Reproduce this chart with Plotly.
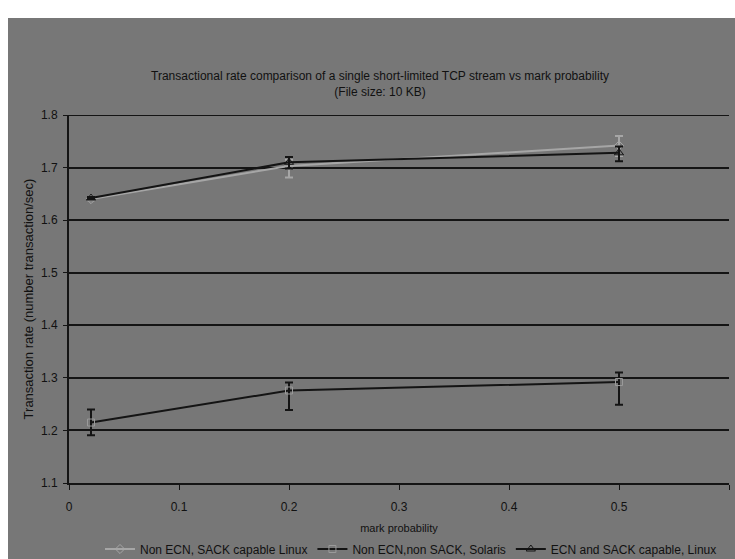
import plotly.graph_objects as go

# mark probability values tested
mark_prob = [0.02, 0.2, 0.5]

# Non ECN, SACK capable Linux
linux_sack = [1.64, 1.703, 1.742]
linux_sack_err_plus = [0.002, 0.012, 0.018]
linux_sack_err_minus = [0.002, 0.022, 0.02]

# Non ECN, non SACK, Solaris
solaris = [1.215, 1.276, 1.292]
solaris_err_plus = [0.025, 0.015, 0.018]
solaris_err_minus = [0.024, 0.037, 0.043]

# ECN and SACK capable, Linux
linux_ecn = [1.642, 1.71, 1.728]
linux_ecn_err_plus = [0.002, 0.01, 0.012]
linux_ecn_err_minus = [0.002, 0.012, 0.016]

y_ticks = [1.1, 1.2, 1.3, 1.4, 1.5, 1.6, 1.7, 1.8]
x_ticks = [0, 0.1, 0.2, 0.3, 0.4, 0.5, 0.6]

BG = "#777777"
DARK = "#141414"
LIGHT = "#a6a6a6"
FONT = "Liberation Sans, Arial, sans-serif"

W, H = 735, 559
ML, MR, MT, MB = 69, 6, 115, 76

fig = go.Figure()

fig.add_trace(go.Scatter(
    x=mark_prob, y=linux_sack, mode="lines+markers",
    name="Non ECN, SACK capable Linux",
    line=dict(color=LIGHT, width=2),
    marker=dict(symbol="diamond-open", size=7, color=LIGHT, line=dict(width=1)),
    error_y=dict(type="data", symmetric=False, array=linux_sack_err_plus,
                 arrayminus=linux_sack_err_minus, color=LIGHT, thickness=2, width=4),
))
fig.add_trace(go.Scatter(
    x=mark_prob, y=solaris, mode="lines+markers",
    name="Non ECN,non SACK, Solaris",
    line=dict(color=DARK, width=2),
    marker=dict(symbol="square-open", size=7, color="#9a9a9a", line=dict(width=1)),
    error_y=dict(type="data", symmetric=False, array=solaris_err_plus,
                 arrayminus=solaris_err_minus, color=DARK, thickness=2, width=4),
))
fig.add_trace(go.Scatter(
    x=mark_prob, y=linux_ecn, mode="lines+markers",
    name="ECN and SACK capable, Linux",
    line=dict(color=DARK, width=2),
    marker=dict(symbol="triangle-up-open", size=8, color=DARK, line=dict(width=1)),
    error_y=dict(type="data", symmetric=False, array=linux_ecn_err_plus,
                 arrayminus=linux_ecn_err_minus, color=DARK, thickness=2, width=4),
))

pw = W - ML - MR
ph = H - MT - MB
# gray chart panel, leaving a thin white strip at the top and left
fig.add_shape(
    type="rect", xref="paper", yref="paper", layer="below",
    x0=(8 - ML) / pw, x1=1 + (MR + 2) / pw,
    y0=-(MB + 2) / ph, y1=1 + (MT - 18) / ph,
    fillcolor=BG, line=dict(width=0),
)
# top gridline at the upper end of the value range
fig.add_shape(
    type="line", xref="paper", yref="y", x0=0, x1=1, y0=y_ticks[-1], y1=y_ticks[-1],
    line=dict(color=DARK, width=2),
)

fig.update_layout(
    width=W, height=H,
    margin=dict(l=ML, r=MR, t=MT, b=MB, autoexpand=False),
    paper_bgcolor="white",
    plot_bgcolor=BG,
    font=dict(family=FONT, size=12, color="#111111"),
    title=dict(
        text="Transactional rate comparison of a single short-limited TCP stream vs mark probability<br>(File size: 10 KB)",
        font=dict(family=FONT, size=12, color="#111111"),
        xref="container", yref="container",
        x=380 / W, y=1 - 80 / H, xanchor="center", yanchor="middle",
    ),
    xaxis=dict(
        range=[0, 0.6], tickvals=x_ticks, ticktext=[f"{t:g}" for t in x_ticks],
        showgrid=False, zeroline=False, automargin=False,
        showline=True, linecolor=DARK, linewidth=2,
        ticks="outside", ticklen=5, tickcolor=DARK, tickwidth=1,
        ticklabelstandoff=7,
        tickfont=dict(size=12),
        title=dict(text="mark probability", font=dict(size=11), standoff=12),
        fixedrange=True,
    ),
    yaxis=dict(
        range=[1.1, 1.8], tickvals=y_ticks, ticktext=[f"{t:.1f}" for t in y_ticks],
        showgrid=True, gridcolor=DARK, gridwidth=2, zeroline=False, automargin=False,
        showline=True, linecolor=DARK, linewidth=2,
        ticks="outside", ticklen=4, tickcolor=DARK, tickwidth=1,
        ticklabelstandoff=3,
        tickfont=dict(size=12),
        title=dict(text="Transaction rate (number transaction/sec)", font=dict(size=13), standoff=4),
        fixedrange=True,
    ),
    legend=dict(
        orientation="h", xref="container", yref="container",
        x=411 / W, y=1 - 549 / H, xanchor="center", yanchor="middle",
        font=dict(size=12), bgcolor="rgba(0,0,0,0)",
        itemwidth=30, tracegroupgap=0,
    ),
    showlegend=True,
)

fig.write_html("out.html")
